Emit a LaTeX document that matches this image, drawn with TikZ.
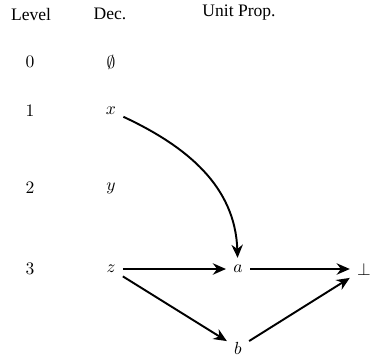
\documentclass[tikz,border=0pt]{standalone}
\usepackage{fontspec}
\setmainfont{Liberation Serif}
\usetikzlibrary{arrows.meta}
\begin{document}
\begin{tikzpicture}[x=0.57pt,y=-0.57pt,
  lbl/.style={inner sep=4pt},
  arr/.style={-{Stealth[length=7.5pt,width=6.5pt]}, line width=1.1pt}]
\useasboundingbox (0,0) rectangle (372,359);
\node[lbl] (hl) at (31,14) {Level};
\node[lbl] (hd) at (110,14) {Dec.};
\node[lbl] (hu) at (239,13) {Unit Prop.};
\node[lbl] (l0) at (30,62) {$0$};
\node[lbl] (l1) at (30,111) {$1$};
\node[lbl] (l2) at (30,188) {$2$};
\node[lbl] (l3) at (30,269) {$3$};
\node[lbl] (d0) at (111,62) {$\emptyset$};
\node[lbl] (x) at (111,111) {$x$};
\node[lbl] (y) at (111,188) {$y$};
\node[lbl] (z) at (111,269) {$z$};
\node[lbl] (a) at (238,269) {$a$};
\node[lbl] (b) at (238,348) {$b$};
\node[lbl] (bot) at (364,269) {$\bot$};
\draw[arr] (x) to[out=-25, in=92] (a);
\draw[arr] (z) -- (a);
\draw[arr] (a) -- (bot);
\draw[arr] (z) -- (b);
\draw[arr] (b) -- (bot);
\end{tikzpicture}
\end{document}
